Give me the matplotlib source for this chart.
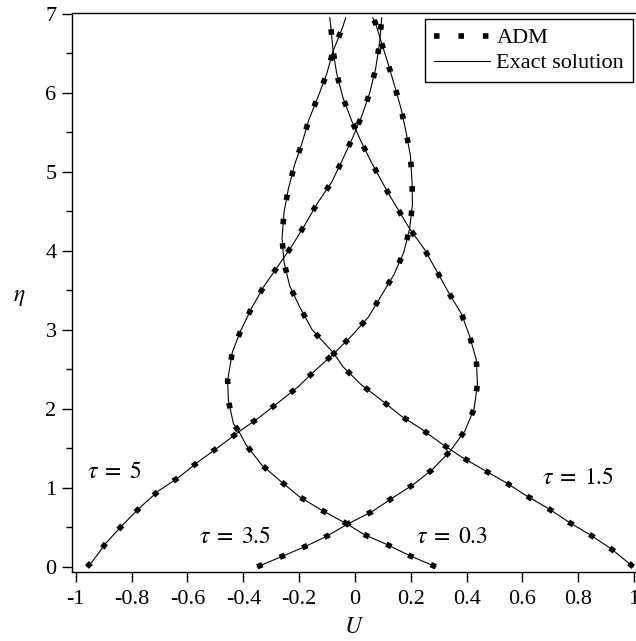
import matplotlib
matplotlib.use('Agg')
import matplotlib.pyplot as plt
from matplotlib.lines import Line2D

plt.rcParams['font.family'] = ['Liberation Serif', 'DejaVu Serif']
plt.rcParams['mathtext.fontset'] = 'stix'
plt.rcParams['axes.unicode_minus'] = False

# values (eta, U) for each tau
eta_t03 = [0.0, 0.14, 0.28, 0.41, 0.54, 0.72, 0.89, 1.08, 1.29, 1.55, 1.71, 1.81, 2.10, 2.36, 2.72,
           2.99, 3.27, 3.55, 3.81, 4.07, 4.33, 4.60, 4.87, 5.15, 5.44, 5.72, 6.00, 6.30, 6.65, 6.95]
u_t03 = [0.290, 0.197, 0.116, 0.032, -0.027, -0.121, -0.200, -0.265, -0.334, -0.391, -0.415, -0.435,
         -0.453, -0.456, -0.439, -0.409, -0.371, -0.326, -0.275, -0.224, -0.179, -0.135, -0.083, -0.045,
         -0.007, 0.026, 0.053, 0.074, 0.089, 0.096]

eta_t15 = [0.0, 0.22, 0.40, 0.56, 0.74, 0.90, 1.07, 1.22, 1.39, 1.56, 1.75, 1.91, 2.11, 2.31, 2.53,
           2.70, 3.00, 3.29, 3.56, 3.86, 4.16, 4.49, 4.79, 5.09, 5.38, 5.66, 5.96, 6.24, 6.53, 6.84, 6.95]
u_t15 = [0.997, 0.921, 0.845, 0.769, 0.692, 0.614, 0.539, 0.465, 0.382, 0.310, 0.236, 0.165, 0.095,
         0.021, -0.042, -0.075, -0.153, -0.198, -0.234, -0.254, -0.261, -0.254, -0.238, -0.216, -0.188,
         -0.165, -0.131, -0.101, -0.078, -0.043, -0.033]

eta_t35 = [0.0, 0.13, 0.26, 0.39, 0.54, 0.70, 0.87, 1.04, 1.23, 1.46, 1.72, 2.00, 2.31, 2.62, 2.92,
           3.20, 3.47, 3.75, 4.02, 4.28, 4.68, 4.83, 5.10, 5.37, 5.65, 5.94, 6.24, 6.53, 6.86, 6.95]
u_t35 = [-0.350, -0.262, -0.176, -0.099, -0.027, 0.062, 0.134, 0.209, 0.277, 0.340, 0.394, 0.427,
         0.439, 0.435, 0.411, 0.382, 0.336, 0.292, 0.249, 0.196, 0.128, 0.104, 0.062, 0.024, -0.012,
         -0.043, -0.065, -0.078, -0.087, -0.090]

eta_t5 = [0.0, 0.06, 0.30, 0.53, 0.75, 0.96, 1.13, 1.33, 1.52, 1.71, 1.89, 2.08, 2.28, 2.50, 2.70,
          2.93, 3.16, 3.43, 3.70, 3.98, 4.28, 4.58, 4.85, 5.20, 5.49, 5.79, 6.08, 6.38, 6.67, 6.88, 6.95]
u_t5 = [-0.960, -0.942, -0.892, -0.832, -0.770, -0.704, -0.632, -0.561, -0.487, -0.415, -0.343, -0.274,
        -0.203, -0.138, -0.075, -0.010, 0.048, 0.094, 0.140, 0.175, 0.196, 0.206, 0.205, 0.199, 0.184,
        0.166, 0.143, 0.118, 0.092, 0.074, 0.064]

curves = [(u_t03, eta_t03), (u_t15, eta_t15), (u_t35, eta_t35), (u_t5, eta_t5)]

fig = plt.figure(figsize=(6.36, 6.41), dpi=100)
ax = fig.add_axes([0.113, 0.108, 0.887, 0.872])

adm_style = dict(color='black', lw=4.0, linestyle=(0, (1, 3.4)), dash_capstyle='butt')
for u, eta in curves:
    ax.plot(u, eta, color='black', lw=0.8)
    ax.plot(u, eta, **adm_style)

ax.set_xlim(-1.014, 1.007)
ax.set_ylim(-0.063, 7.013)
ax.set_xticks([-1, -0.8, -0.6, -0.4, -0.2, 0, 0.2, 0.4, 0.6, 0.8, 1])
ax.set_xticklabels(['-1', '-0.8', '-0.6', '-0.4', '-0.2', '0', '0.2', '0.4', '0.6', '0.8', '1'])
ax.set_yticks(range(0, 8))
ax.set_yticks([0.5, 1.5, 2.5, 3.5, 4.5, 5.5, 6.5], minor=True)
ax.tick_params(axis='both', which='major', direction='out', length=7, width=1, labelsize=16, pad=4)
ax.tick_params(axis='x', which='major', pad=6)
ax.tick_params(axis='y', which='minor', direction='out', length=4, width=1)
ax.spines['right'].set_visible(False)
for s in ['left', 'bottom', 'top']:
    ax.spines[s].set_linewidth(1.0)

ax.set_xlabel(r'$U$', fontsize=17, labelpad=6)
ax.set_ylabel(r'$\eta$', fontsize=17, rotation=0, va='center', ha='center')
ax.yaxis.set_label_coords(-0.094, 0.49)

lab = dict(fontsize=17, va='center', ha='left')
ax.text(-0.96, 1.19, r'$\tau\;=\;5$', **lab)
ax.text(-0.558, 0.37, r'$\tau\;=\;3.5$', **lab)
ax.text(0.22, 0.37, r'$\tau\;=\;0.3$', **lab)
ax.text(0.67, 1.12, r'$\tau\;=\;1.5$', **lab)

handles = [Line2D([], [], **adm_style), Line2D([], [], color='black', lw=0.8)]
leg = ax.legend(handles, ['ADM', 'Exact solution'], loc='upper right',
                bbox_to_anchor=(633 / 636, 1 - 19 / 641), bbox_transform=fig.transFigure,
                fontsize=16, handlelength=2.5, handletextpad=0.3, labelspacing=0.2,
                borderpad=0.4, borderaxespad=0, fancybox=False, framealpha=1)
leg.get_frame().set_edgecolor('black')
leg.get_frame().set_linewidth(1.0)

fig.savefig('out.png', dpi=100)
